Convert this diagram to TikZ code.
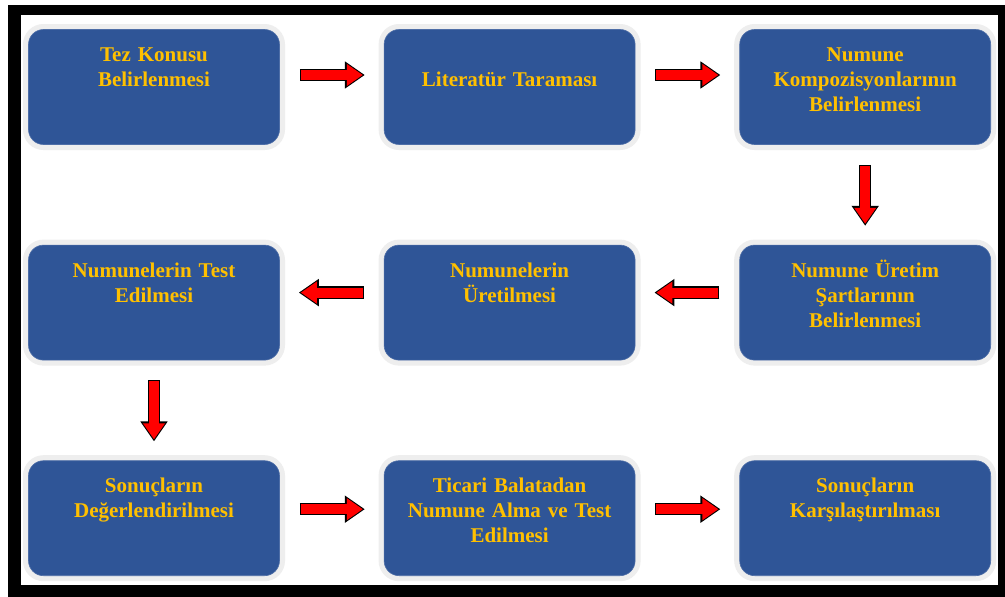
\documentclass[tikz,border=0pt]{standalone}
\usepackage{fontspec}
\setmainfont{Liberation Serif}
\usetikzlibrary{positioning, arrows.meta}
\definecolor{boxblue}{RGB}{47,85,151}
\definecolor{boxgold}{RGB}{255,192,0}
\tikzset{
node distance=100pt and 104pt, % rows and columns of the flow
stepbox/.style={rounded corners=15pt, fill=boxblue, draw=boxblue!85!white, line width=.6pt,
  preaction={draw=gray!13, line width=11pt},
  minimum width=251pt, inner xsep=8pt, inner ysep=0pt, text width=235pt, align=center,
  text height=32pt, text depth=83pt, % text sits near the top of the box
  font=\bfseries\fontsize{21}{25}\selectfont, text=boxgold},
oneline/.style={text height=57pt, text depth=58pt},
flow/.style={draw=red, line width=10pt, -{Triangle[length=16pt,width=21pt]},
  shorten <=21pt, shorten >=21pt,
  preaction={draw=black, line width=12.5pt, -{Triangle[length=20pt,width=26pt]},
    shorten <=20pt, shorten >=19pt}},
}

\begin{document}
\begin{tikzpicture}[x=1pt,y=-1pt]
\useasboundingbox (0,0) rectangle (1005,597);
% frame
\fill[black] (8,5) rectangle (1005,597);
\fill[white] (21,15) rectangle (998,585);

\node[stepbox] (konu) at (154,87) {Tez Konusu\\Belirlenmesi};
\node[stepbox, oneline, right=of konu] (literatur) {Literatür Taraması};
\node[stepbox, right=of literatur] (kompozisyon) {Numune\\Kompozisyonlarının\\Belirlenmesi};
\node[stepbox, below=of kompozisyon] (sartlar) {Numune Üretim\\Şartlarının\\Belirlenmesi};
\node[stepbox, left=of sartlar] (uretim) {Numunelerin\\Üretilmesi};
\node[stepbox, left=of uretim] (testler) {Numunelerin Test\\Edilmesi};
\node[stepbox, below=of testler] (degerlendirme) {Sonuçların\\Değerlendirilmesi};
\node[stepbox, right=of degerlendirme] (ticari) {Ticari Balatadan\\Numune Alma ve Test\\Edilmesi};
\node[stepbox, right=of ticari] (karsilastirma) {Sonuçların\\Karşılaştırılması};

\draw[flow] ([yshift=12pt]konu.east) -- ([yshift=12pt]literatur.west);
\draw[flow] ([yshift=12pt]literatur.east) -- ([yshift=12pt]kompozisyon.west);
\draw[flow] (kompozisyon) -- (sartlar);
\draw[flow] ([yshift=10pt]sartlar.west) -- ([yshift=10pt]uretim.east);
\draw[flow] ([yshift=10pt]uretim.west) -- ([yshift=10pt]testler.east);
\draw[flow] (testler) -- (degerlendirme);
\draw[flow] ([yshift=9pt]degerlendirme.east) -- ([yshift=9pt]ticari.west);
\draw[flow] ([yshift=9pt]ticari.east) -- ([yshift=9pt]karsilastirma.west);
\end{tikzpicture}
\end{document}
